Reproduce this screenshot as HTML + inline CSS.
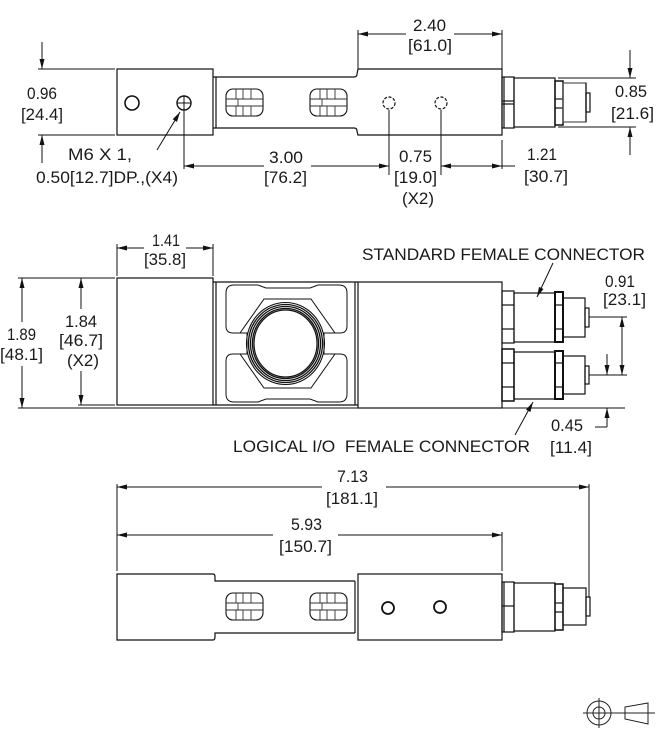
<!DOCTYPE html>
<html><head><meta charset="utf-8"><style>
html,body{margin:0;padding:0;background:#fff;}
svg{display:block;}
text{font-family:"Liberation Sans",sans-serif;font-size:17px;fill:#1a1a1a;}
</style></head><body>
<svg width="669" height="736" viewBox="0 0 669 736" xmlns="http://www.w3.org/2000/svg">
<defs>
<g id="slot">
<rect x="0" y="0" width="37" height="27" rx="7" ry="7" fill="none" stroke="#111" stroke-width="1.1"/>
<path d="M10,0V10 M17,0V10 M25,0V10 M10,17V27 M17,17V27 M25,17V27 M0,10H37 M0,17H37 M12,10V17" stroke="#333" stroke-width="0.9" fill="none"/>
</g>
</defs>

<g fill="none" stroke="#111" stroke-width="1.2">
<!-- ================= TOP VIEW ================= -->
<rect x="117" y="69" width="96" height="66"/>
<line x1="216" y1="77" x2="216" y2="128"/>
<path d="M213,77 L354,77 Q357,77 357,74 L358,69 L502,69 L502,135 L358,135 L357,131 Q357,128 354,128 L213,128"/>
<circle cx="132" cy="103" r="7" stroke-width="1.6"/>
<circle cx="184" cy="103" r="7" stroke-width="1.4"/>
<line x1="177" y1="103" x2="191" y2="103" stroke-width="1"/>
<circle cx="389" cy="103" r="6" stroke-dasharray="3,1.6" stroke-width="1.2"/>
<circle cx="441" cy="103" r="6" stroke-dasharray="3,1.6" stroke-width="1.2"/>
<!-- connector top -->
<rect x="502" y="77" width="12" height="51"/>
<line x1="504" y1="77" x2="504" y2="128"/>
<line x1="502" y1="101" x2="514" y2="101"/>
<line x1="502" y1="104" x2="514" y2="104"/>
<rect x="514" y="78" width="41" height="49"/>
<rect x="555" y="81" width="8" height="44" stroke-width="1.5"/>
<line x1="555" y1="99" x2="563" y2="99"/>
<line x1="555" y1="108" x2="563" y2="108"/>
<rect x="563" y="83" width="23" height="39" stroke="#555"/>
<line x1="586" y1="83" x2="586" y2="122"/>
<rect x="586" y="93" width="4" height="19"/>
</g>
<use href="#slot" x="226" y="89"/>
<use href="#slot" x="310" y="89"/>

<!-- top view dimensions -->
<g stroke="#111" stroke-width="1" fill="none">
<line x1="38" y1="69" x2="115" y2="69"/>
<line x1="38" y1="135" x2="115" y2="135"/>
<line x1="42" y1="42" x2="42" y2="69"/>
<line x1="42" y1="135" x2="42" y2="163"/>
<line x1="358" y1="30" x2="358" y2="69"/>
<line x1="502" y1="30" x2="502" y2="69"/>
<line x1="358" y1="34" x2="406" y2="34"/>
<line x1="454" y1="34" x2="502" y2="34"/>
<line x1="558" y1="78" x2="636" y2="78"/>
<line x1="558" y1="127" x2="636" y2="127"/>
<line x1="630" y1="50" x2="630" y2="78"/>
<line x1="630" y1="127" x2="630" y2="155"/>
<line x1="184" y1="96" x2="184" y2="169"/>
<line x1="389" y1="110" x2="389" y2="175"/>
<line x1="441" y1="110" x2="441" y2="175"/>
<line x1="502" y1="140" x2="502" y2="169"/>
<line x1="184" y1="166" x2="264" y2="166"/>
<line x1="311" y1="166" x2="389" y2="166"/>
<line x1="441" y1="166" x2="515" y2="166"/>
<line x1="157" y1="150" x2="180" y2="112"/>
</g>
<g fill="#111">
<polygon points="42,69 39.5,59 44.5,59"/>
<polygon points="42,135 39.5,145 44.5,145"/>
<polygon points="358,34 368,31.5 368,36.5"/>
<polygon points="502,34 492,31.5 492,36.5"/>
<polygon points="630,78 627.5,68 632.5,68"/>
<polygon points="630,127 627.5,137 632.5,137"/>
<polygon points="184,166 194,163.5 194,168.5"/>
<polygon points="389,166 379,163.5 379,168.5"/>
<polygon points="441,166 451,163.5 451,168.5"/>
<polygon points="502,166 492,163.5 492,168.5"/>
<polygon points="180,112 177,121.9 172.7,119.3"/>
</g>
<text x="27" y="99" textLength="30" lengthAdjust="spacingAndGlyphs">0.96</text>
<text x="21" y="120" textLength="42" lengthAdjust="spacingAndGlyphs">[24.4]</text>
<text x="68" y="160" textLength="64" lengthAdjust="spacingAndGlyphs">M6 X 1,</text>
<text x="36" y="183" textLength="142" lengthAdjust="spacingAndGlyphs">0.50[12.7]DP.,(X4)</text>
<text x="269" y="163" textLength="34" lengthAdjust="spacingAndGlyphs">3.00</text>
<text x="264" y="183" textLength="43" lengthAdjust="spacingAndGlyphs">[76.2]</text>
<text x="413" y="31" textLength="33" lengthAdjust="spacingAndGlyphs">2.40</text>
<text x="408" y="51" textLength="44" lengthAdjust="spacingAndGlyphs">[61.0]</text>
<text x="615" y="97" textLength="32" lengthAdjust="spacingAndGlyphs">0.85</text>
<text x="611" y="119" textLength="43" lengthAdjust="spacingAndGlyphs">[21.6]</text>
<text x="399" y="162" textLength="33" lengthAdjust="spacingAndGlyphs">0.75</text>
<text x="394" y="183" textLength="43" lengthAdjust="spacingAndGlyphs">[19.0]</text>
<text x="402" y="204" textLength="32" lengthAdjust="spacingAndGlyphs">(X2)</text>
<text x="527" y="160" textLength="30" lengthAdjust="spacingAndGlyphs">1.21</text>
<text x="524" y="182" textLength="44" lengthAdjust="spacingAndGlyphs">[30.7]</text>

<!-- ================= MIDDLE VIEW ================= -->
<g fill="none" stroke="#111" stroke-width="1.2">
<rect x="117" y="278" width="96" height="127"/>
<line x1="213" y1="282" x2="358" y2="282"/>
<line x1="216" y1="282" x2="216" y2="405"/>
<line x1="213" y1="405" x2="358" y2="405"/>
<line x1="355" y1="282" x2="355" y2="405"/>
<rect x="358" y="282" width="144" height="126"/>
<line x1="18" y1="408" x2="625" y2="408" stroke-width="1.1"/>
<!-- pockets -->
<path d="M226,326 L226,293 Q226,285 234,285 L258,285 L266,288 L310,288 L318,285 L339,285 Q347,285 347,293 L347,326 Q347,333 340,333 L335,333 L311,299 L264,299 L240,333 L233,333 Q226,333 226,326 Z" stroke-width="1"/>
<path d="M226,361 L226,394 Q226,402 234,402 L258,402 L266,399 L310,399 L318,402 L339,402 Q347,402 347,394 L347,361 Q347,354 340,354 L335,354 L311,388 L264,388 L240,354 L233,354 Q226,354 226,361 Z" stroke-width="1"/>
<path d="M238,333 L247,333 L247,354 L238,354 M336,333 L324,333 L324,354 L336,354" stroke-width="1"/>
<ellipse cx="285.5" cy="343.5" rx="39" ry="41" stroke-width="1.1"/>
<ellipse cx="285.5" cy="343.5" rx="37" ry="39" stroke-width="1.3"/>
<ellipse cx="285.5" cy="343.5" rx="35" ry="37" stroke-width="1.3"/>
<ellipse cx="285.5" cy="343.5" rx="33" ry="35" stroke-width="1.3"/>
<ellipse cx="285.5" cy="343.5" rx="31.5" ry="33.5" stroke-width="1.2"/>
<!-- upper connector -->
<rect x="502" y="291" width="12" height="52"/>
<line x1="502" y1="305" x2="514" y2="305"/>
<line x1="502" y1="329" x2="514" y2="329"/>
<rect x="514" y="293" width="41" height="49"/>
<rect x="555" y="292" width="8" height="50" stroke-width="2"/>
<line x1="555" y1="305" x2="563" y2="305"/>
<line x1="555" y1="329" x2="563" y2="329"/>
<rect x="563" y="298" width="22" height="39"/>
<rect x="585" y="308" width="4" height="19"/>
<line x1="589" y1="317" x2="627" y2="317" stroke-width="1"/>
<!-- lower connector -->
<rect x="502" y="349" width="12" height="52" stroke-width="1.5"/>
<line x1="502" y1="363" x2="514" y2="363"/>
<line x1="502" y1="387" x2="514" y2="387"/>
<rect x="514" y="352" width="41" height="47"/>
<rect x="555" y="351" width="8" height="48" stroke-width="2"/>
<line x1="555" y1="363" x2="563" y2="363"/>
<line x1="555" y1="387" x2="563" y2="387"/>
<rect x="563" y="356" width="22" height="38"/>
<rect x="585" y="366" width="4" height="18"/>
<line x1="589" y1="375" x2="627" y2="375" stroke-width="1"/>
</g>
<g stroke="#111" stroke-width="1" fill="none">
<line x1="18" y1="278" x2="115" y2="278"/>
<line x1="78" y1="405" x2="115" y2="405"/>
<line x1="22" y1="278" x2="22" y2="322"/>
<line x1="22" y1="366" x2="22" y2="408"/>
<line x1="81" y1="278" x2="81" y2="309"/>
<line x1="81" y1="371" x2="81" y2="405"/>
<line x1="117" y1="244" x2="117" y2="276"/>
<line x1="213" y1="244" x2="213" y2="276"/>
<line x1="117" y1="248" x2="144" y2="248"/>
<line x1="186" y1="248" x2="213" y2="248"/>
<line x1="622" y1="317" x2="622" y2="375"/>
<line x1="607" y1="354" x2="607" y2="375"/>
<line x1="607" y1="408" x2="607" y2="427"/>
<line x1="595" y1="427" x2="607" y2="427"/>
<line x1="553" y1="263" x2="537" y2="297"/>
<line x1="515" y1="435" x2="533" y2="402"/>
</g>
<g fill="#111">
<polygon points="22,278 19.5,288 24.5,288"/>
<polygon points="22,408 19.5,398 24.5,398"/>
<polygon points="81,278 78.5,288 83.5,288"/>
<polygon points="81,405 78.5,395 83.5,395"/>
<polygon points="117,248 127,245.5 127,250.5"/>
<polygon points="213,248 203,245.5 203,250.5"/>
<polygon points="622,317 619.5,327 624.5,327"/>
<polygon points="622,375 619.5,365 624.5,365"/>
<polygon points="607,375 604.5,365 609.5,365"/>
<polygon points="607,408 604.5,418 609.5,418"/>
<polygon points="537,297 543.5,289 539,286.9"/>
<polygon points="533,402 530.4,412 526,409.6"/>
</g>
<text x="152" y="246" textLength="28" lengthAdjust="spacingAndGlyphs">1.41</text>
<text x="144" y="265" textLength="42" lengthAdjust="spacingAndGlyphs">[35.8]</text>
<text x="7" y="340" textLength="29" lengthAdjust="spacingAndGlyphs">1.89</text>
<text x="0" y="360" textLength="43" lengthAdjust="spacingAndGlyphs">[48.1]</text>
<text x="65" y="327" textLength="32" lengthAdjust="spacingAndGlyphs">1.84</text>
<text x="59" y="346" textLength="44" lengthAdjust="spacingAndGlyphs">[46.7]</text>
<text x="67" y="366" textLength="32" lengthAdjust="spacingAndGlyphs">(X2)</text>
<text x="362" y="260" textLength="283" lengthAdjust="spacingAndGlyphs">STANDARD FEMALE CONNECTOR</text>
<text x="605" y="287" textLength="30" lengthAdjust="spacingAndGlyphs">0.91</text>
<text x="603" y="305" textLength="43" lengthAdjust="spacingAndGlyphs">[23.1]</text>
<text x="233" y="452" textLength="297" lengthAdjust="spacingAndGlyphs" xml:space="preserve">LOGICAL I/O  FEMALE CONNECTOR</text>
<text x="551" y="431" textLength="32" lengthAdjust="spacingAndGlyphs">0.45</text>
<text x="550" y="453" textLength="42" lengthAdjust="spacingAndGlyphs">[11.4]</text>

<!-- ================= BOTTOM VIEW ================= -->
<g fill="none" stroke="#111" stroke-width="1.2">
<path d="M213,574 L117,574 L117,640 L213,640 Q215,640 215,637 L215,633 L355,633 M213,574 Q215,574 215,577 L215,581 L355,581"/>
<line x1="355" y1="581" x2="355" y2="633"/>
<rect x="358" y="574" width="144" height="66"/>
<circle cx="388" cy="608" r="6" stroke-width="1.8"/>
<circle cx="440" cy="607" r="6" stroke-width="1.8"/>
<rect x="502" y="582" width="12" height="50"/>
<line x1="504" y1="582" x2="504" y2="632"/>
<line x1="502" y1="606" x2="514" y2="606"/>
<rect x="514" y="583" width="41" height="48"/>
<rect x="555" y="584" width="8" height="46" stroke-width="1.5"/>
<line x1="555" y1="603" x2="563" y2="603"/>
<line x1="555" y1="612" x2="563" y2="612"/>
<rect x="563" y="588" width="23" height="37"/>
<rect x="586" y="597" width="4" height="19"/>
</g>
<use href="#slot" x="226" y="593"/>
<use href="#slot" x="310" y="593"/>
<g stroke="#111" stroke-width="1" fill="none">
<line x1="117" y1="484" x2="117" y2="571"/>
<line x1="502" y1="532" x2="502" y2="571"/>
<line x1="589" y1="484" x2="589" y2="597"/>
<line x1="117" y1="487" x2="322" y2="487"/>
<line x1="386" y1="487" x2="589" y2="487"/>
<line x1="117" y1="535" x2="273" y2="535"/>
<line x1="338" y1="535" x2="502" y2="535"/>
</g>
<g fill="#111">
<polygon points="117,487 127,484.5 127,489.5"/>
<polygon points="589,487 579,484.5 579,489.5"/>
<polygon points="117,535 127,532.5 127,537.5"/>
<polygon points="502,535 492,532.5 492,537.5"/>
</g>
<text x="337" y="482" textLength="31" lengthAdjust="spacingAndGlyphs">7.13</text>
<text x="326" y="504" textLength="52" lengthAdjust="spacingAndGlyphs">[181.1]</text>
<text x="291" y="530" textLength="31" lengthAdjust="spacingAndGlyphs">5.93</text>
<text x="279" y="552" textLength="53" lengthAdjust="spacingAndGlyphs">[150.7]</text>

<!-- projection symbol -->
<g fill="none" stroke="#222" stroke-width="1">
<line x1="583" y1="713" x2="655" y2="713"/>
<line x1="599" y1="698" x2="599" y2="728"/>
<circle cx="599" cy="713" r="12"/>
<circle cx="599" cy="713" r="6"/>
<polygon points="625,707 648,703 648,724 625,719"/>
</g>
</svg>
</body></html>
